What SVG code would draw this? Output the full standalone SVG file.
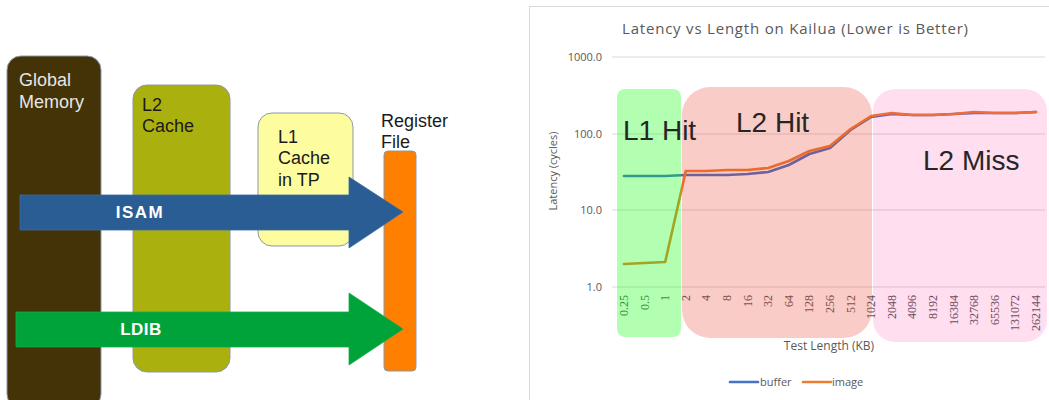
<svg xmlns="http://www.w3.org/2000/svg" width="1049" height="400" viewBox="0 0 1049 400">
  <style>
    .box { stroke: #8a98a6; stroke-width: 1; }
    .lbl { font-family: "Liberation Sans", Arial, sans-serif; font-size: 18px; }
    .arrowlbl { font-family: "Liberation Sans", Arial, sans-serif; font-size: 17px; font-weight: bold; fill: #ffffff; text-anchor: middle; }
    .ctext { font-family: "Open Sans", "Liberation Sans", sans-serif; fill: #595959; }
    .ylab { font-size: 11px; text-anchor: end; }
    .xlab { font-family: "Liberation Serif", "Times New Roman", serif; font-size: 12px; fill: #595959; text-anchor: end; }
    .grid { stroke: #d9d9d9; stroke-width: 1; }
    .region { font-family: "Liberation Sans", Arial, sans-serif; font-size: 28px; fill: #262626; }
    .series { fill: none; stroke-width: 2.6; stroke-linejoin: round; stroke-linecap: round; }
  </style>

  <rect width="1049" height="400" fill="#ffffff"/>

  <!-- Memory hierarchy -->
  <g id="global-memory">
    <rect class="box" x="7" y="56" width="94" height="352" rx="14" fill="#433306"/>
    <text class="lbl" x="19" y="86" fill="#e6e6e6">Global</text>
    <text class="lbl" x="19" y="108" fill="#e6e6e6">Memory</text>
  </g>
  <g id="l2-cache">
    <rect class="box" x="133" y="85" width="97" height="287" rx="14" fill="#aab10f"/>
    <text class="lbl" x="142" y="111" fill="#1a1a1a">L2</text>
    <text class="lbl" x="142" y="132" fill="#1a1a1a">Cache</text>
  </g>
  <g id="l1-cache">
    <rect class="box" x="258" y="113" width="95" height="133" rx="14" fill="#fdfd9f"/>
    <text class="lbl" x="278" y="143" fill="#1a1a1a">L1</text>
    <text class="lbl" x="278" y="164" fill="#1a1a1a">Cache</text>
    <text class="lbl" x="278" y="186" fill="#1a1a1a">in TP</text>
  </g>
  <g id="register-file">
    <rect class="box" x="384" y="151" width="32" height="220" rx="4" fill="#ff7f00"/>
    <text class="lbl" x="381" y="127" fill="#1a1a1a">Register</text>
    <text class="lbl" x="381" y="148" fill="#1a1a1a">File</text>
  </g>

  <!-- Load paths into the register file -->
  <g id="connectors">
    <g id="isam">
      <polygon points="20,195 349,195 349,177 403,212 349,248 349,230 20,230" fill="#2a5d94" stroke="#3a6aa0" stroke-width="0.8"/>
      <text class="arrowlbl" x="140" y="218" letter-spacing="1.5">ISAM</text>
    </g>
    <g id="ldib">
      <polygon points="16,312 349,312 349,293 403,329 349,365 349,347 16,347" fill="#00a33a" stroke="#1aa848" stroke-width="0.8"/>
      <text class="arrowlbl" x="141" y="335" letter-spacing="0.5">LDIB</text>
    </g>
  </g>

  <!-- Latency chart -->
  <g id="chart">
    <rect x="529.5" y="6.5" width="530" height="400" fill="#ffffff" stroke="#d9d9d9"/>
    <text class="ctext" x="622" y="34" font-size="15" textLength="346" lengthAdjust="spacing">Latency vs Length on Kailua (Lower is Better)</text>

    <g id="gridlines">
      <line class="grid" x1="612" y1="57" x2="1045" y2="57"/>
      <line class="grid" x1="612" y1="134" x2="1045" y2="134"/>
      <line class="grid" x1="612" y1="210" x2="1045" y2="210"/>
      <line class="grid" x1="612" y1="287" x2="1045" y2="287"/>
    </g>
    <g class="ctext ylab">
      <text x="602" y="61">1000.0</text>
      <text x="602" y="138">100.0</text>
      <text x="602" y="214">10.0</text>
      <text x="602" y="291">1.0</text>
    </g>
    <text class="ctext" font-size="11" text-anchor="middle" transform="translate(557,171) rotate(-90)">Latency (cycles)</text>

    <!-- x-axis categories -->
    <g>
      <text class="xlab" transform="translate(628,295) rotate(-90)">0.25</text>
      <text class="xlab" transform="translate(648.6,295) rotate(-90)">0.5</text>
      <text class="xlab" transform="translate(669.2,295) rotate(-90)">1</text>
      <text class="xlab" transform="translate(689.8,295) rotate(-90)">2</text>
      <text class="xlab" transform="translate(710.4,295) rotate(-90)">4</text>
      <text class="xlab" transform="translate(731,295) rotate(-90)">8</text>
      <text class="xlab" transform="translate(751.6,295) rotate(-90)">16</text>
      <text class="xlab" transform="translate(772.2,295) rotate(-90)">32</text>
      <text class="xlab" transform="translate(792.8,295) rotate(-90)">64</text>
      <text class="xlab" transform="translate(813.4,295) rotate(-90)">128</text>
      <text class="xlab" transform="translate(834,295) rotate(-90)">256</text>
      <text class="xlab" transform="translate(854.6,295) rotate(-90)">512</text>
      <text class="xlab" transform="translate(875.2,295) rotate(-90)">1024</text>
      <text class="xlab" transform="translate(895.8,295) rotate(-90)">2048</text>
      <text class="xlab" transform="translate(916.4,295) rotate(-90)">4096</text>
      <text class="xlab" transform="translate(937,295) rotate(-90)">8192</text>
      <text class="xlab" transform="translate(957.6,295) rotate(-90)">16384</text>
      <text class="xlab" transform="translate(978.2,295) rotate(-90)">32768</text>
      <text class="xlab" transform="translate(998.8,295) rotate(-90)">65536</text>
      <text class="xlab" transform="translate(1019.4,295) rotate(-90)">131072</text>
      <text class="xlab" transform="translate(1040,295) rotate(-90)">262144</text>
    </g>
    <text class="ctext" x="829" y="350" font-size="12" text-anchor="middle">Test Length (KB)</text>

    <!-- data series -->
    <polyline id="buffer" class="series" stroke="#4472c4" points="624,176 644.6,176 665.2,176 685.8,175 706.4,175 727,175 747.6,174 768.2,172 788.8,165 809.4,154 830,148 850.6,130 871.2,117 891.8,114 912.4,115 933,115 953.6,114 974.2,113 994.8,113 1015.4,113 1036,112"/>
    <polyline id="image" class="series" stroke="#ed7d31" points="624,264 644.6,263 665.2,262 685.8,171 706.4,171 727,170 747.6,170 768.2,168 788.8,161 809.4,151 830,146 850.6,129 871.2,116 891.8,113 912.4,115 933,115 953.6,114 974.2,112 994.8,113 1015.4,113 1036,112"/>

    <!-- highlighted cache regions -->
    <rect x="617" y="89" width="64" height="248" rx="8" fill="#00ff00" fill-opacity="0.3"/>
    <rect x="682" y="87" width="190" height="251" rx="28" fill="#e6321e" fill-opacity="0.25"/>
    <rect x="873" y="89" width="174" height="253" rx="22" fill="#ff0080" fill-opacity="0.13"/>
    <text class="region" x="623" y="140">L1 Hit</text>
    <text class="region" x="736" y="132">L2 Hit</text>
    <text class="region" x="923" y="170">L2 Miss</text>

    <!-- legend -->
    <line x1="730" y1="382" x2="758" y2="382" stroke="#4472c4" stroke-width="2.6" stroke-linecap="round"/>
    <text class="ctext" x="760" y="386" font-size="11">buffer</text>
    <line x1="803" y1="382" x2="831" y2="382" stroke="#ed7d31" stroke-width="2.6" stroke-linecap="round"/>
    <text class="ctext" x="832" y="386" font-size="11">image</text>
  </g>
</svg>
